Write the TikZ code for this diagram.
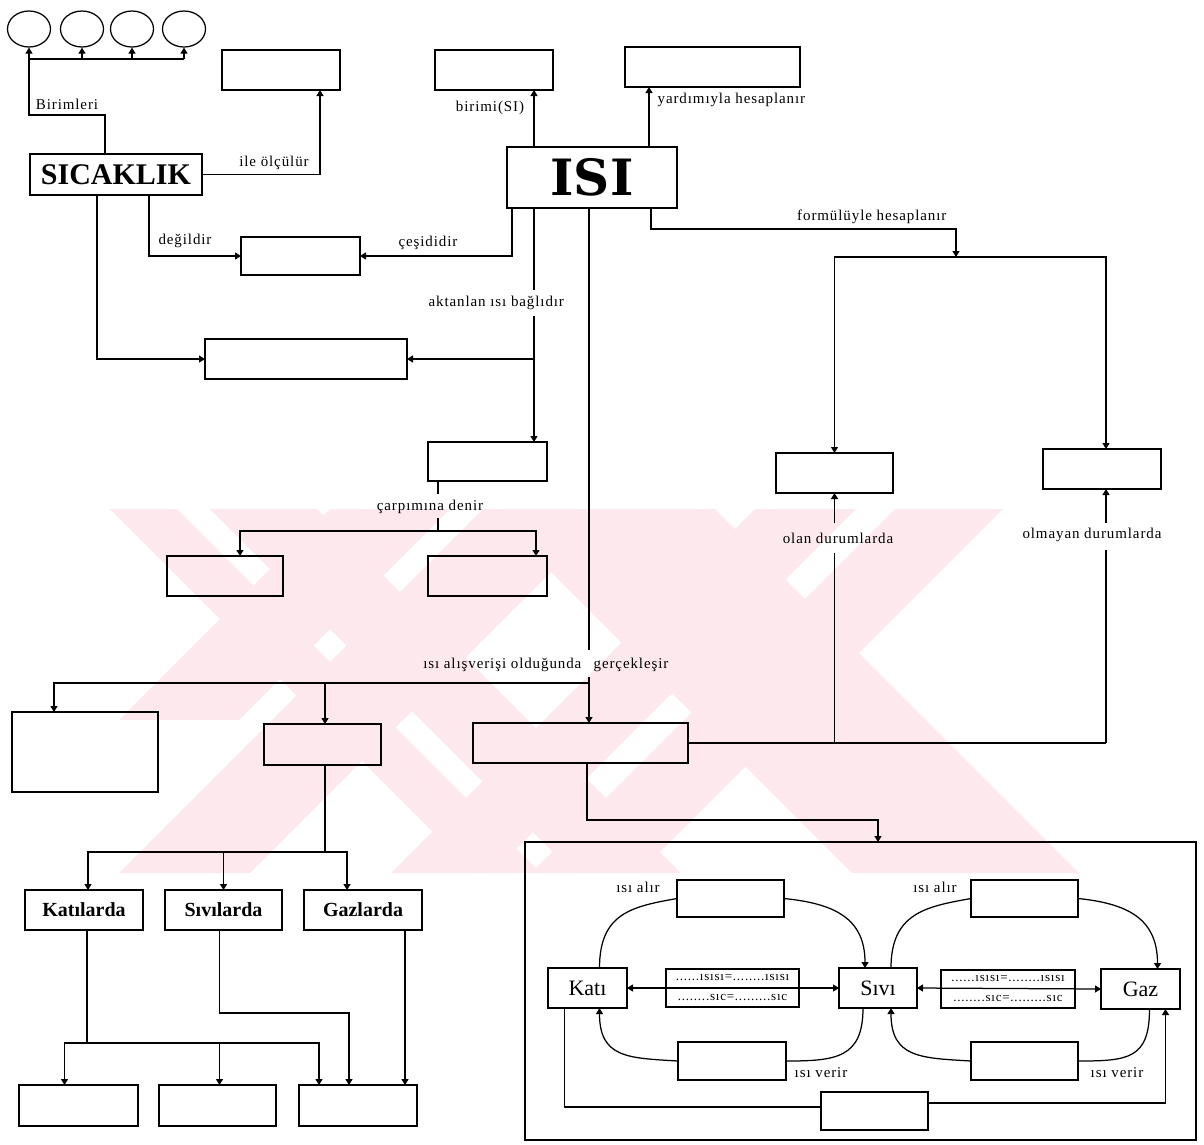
\documentclass[tikz,border=0pt]{standalone}
\usepackage{fontspec}
\setmainfont{Liberation Serif}
\newfontfamily\lf[LetterSpace=6]{Liberation Serif}
\newfontfamily\isf{DejaVu Serif}
\usetikzlibrary{arrows.meta,shapes.geometric,calc}
\definecolor{wmpink}{RGB}{253,233,237}
\newcommand{\bx}[6]{\node[box,minimum width={#4-#2},minimum height={#5-#3}] (#1) at (#2,#3) {#6};}
\begin{document}
\begin{tikzpicture}[x=1pt,y=-1pt,line width=1.25pt,
  box/.style={draw,rectangle,inner sep=0pt,outer sep=0pt,anchor=north west,align=center},
  arr/.style={-{Triangle[length=6pt,width=7pt]}},
  darr/.style={{Triangle[length=6pt,width=7pt]}-{Triangle[length=6pt,width=7pt]}},
  lbl/.style={font=\lf\fontsize{15}{15}\selectfont,inner sep=0pt},
  circ/.style={draw,ellipse,minimum width=43pt,minimum height=36pt,inner sep=0pt},
  info/.style={box,font=\lf\fontsize{13}{20}\selectfont}]
\useasboundingbox (0,0) rectangle (1204,1144);
% watermark
\begin{scope}
\clip (0,509) rectangle (1110,873);
\fill[wmpink,draw=none] (330,509) -- (450,509) -- (239,720) -- (119,720) -- cycle;
\foreach \a/\b in {483/614,755/856,895/1003}
  \fill[wmpink,draw=none] (\a,509) -- (\b,509) -- (\b-364,873) -- (\a-364,873) -- cycle;
\foreach \a/\b in {110/177,210/317,488/715}
  \fill[wmpink,draw=none] (\a,509) -- (\b,509) -- (\b+364,873) -- (\a+364,873) -- cycle;
\end{scope}

% top left
\node[circ] (c1) at (29,29) {};
\node[circ] (c2) at (82,29) {};
\node[circ] (c3) at (132,29) {};
\node[circ] (c4) at (184,29) {};
\coordinate (hb) at (0,59);
\bx{sic}{30}{154}{202}{195}{\fontsize{30}{30}\selectfont\bfseries SICAKLIK}
\draw[arr] ([xshift=-11pt]sic.north) -- ++(0,-39) -| (c1.south);
\draw (c1.south |- hb) -- (c4.south |- hb);
\foreach \c in {c2,c3,c4} \draw[arr] (\c.south |- hb) -- (\c.south);
\bx{ile}{222}{50}{340}{90}{}
\draw[arr] (sic.east) -| ([xshift=-20pt]ile.south east);
\bx{deg}{241}{237}{360}{275}{}
\draw[arr] ([xshift=-53pt]sic.south east) |- (deg.west);
\bx{lng}{205}{339}{407}{379}{}
\draw[arr] ([xshift=67pt]sic.south west) |- (lng.west);

% ISI
\bx{isi}{507}{147}{677}{208}{\isf\fontsize{50}{50}\selectfont\bfseries ISI}
\bx{bir}{435}{50}{553}{90}{}
\draw[arr] ([xshift=27pt]isi.north west) -- ([xshift=-19pt]bir.south east);
\bx{yar}{625}{47}{800}{87}{}
\draw[arr] ([xshift=-28pt]isi.north east) -- ([xshift=24pt]yar.south west);
\draw[arr] ([xshift=5pt]isi.south west) |- (deg.east);

% aktanlan
\bx{b4}{428}{442}{547}{481}{}
\draw[arr] ([xshift=27pt]isi.south west) -- ++(0,82) ++(0,26) -- ([xshift=-13pt]b4.north east);
\path ([xshift=27pt]isi.south west) ++(0,151) coordinate (j2);
\draw[arr] (j2) -- (lng.east);
\bx{b5}{167}{556}{283}{596}{}
\bx{b6}{428}{556}{547}{596}{}
\draw ([xshift=10pt]b4.south west) -- ++(0,13) ++(0,24) -- ++(0,13) coordinate (j3);
\draw[arr] (j3) -| ([xshift=15pt]b5.north);
\draw[arr] (j3) -| ([xshift=-11pt]b6.north east);

% isi alisverisi
\bx{b7}{12}{712}{158}{792}{}
\bx{b8}{264}{724}{381}{765}{}
\bx{b9}{473}{723}{688}{763}{}
\draw[arr] ([xshift=-3pt]isi.south) -- ++(0,442) ++(0,27) -- ([xshift=8.5pt]b9.north);
\path ([xshift=-3pt]isi.south) ++(0,475) coordinate (j4);
\draw[arr] (j4) -| ([xshift=-31pt]b7.north);
\draw[arr] ([xshift=2.5pt]b8.north |- j4) -- ([xshift=2.5pt]b8.north);

% formul
\bx{olan}{776}{453}{893}{493}{}
\bx{olm}{1043}{449}{1161}{489}{}
\draw[arr] ([xshift=-26pt]isi.south east) -- ++(0,21) -- ++(305,0) -- ++(0,28) coordinate (bar);
\draw[arr] (bar) -| (olan.north);
\draw[arr] (bar) -| ([xshift=4pt]olm.north);
\coordinate (olmx) at ([xshift=4pt]olm.south);
\draw (b9.east) -- (b9.east -| olmx);
\draw[arr] (b9.east -| olan.south) -- ++(0,-190) ++(0,-30) -- (olan.south);
\draw[arr] (b9.east -| olmx) -- ++(0,-193) ++(0,-27) -- (olmx);

% lower left
\bx{katl}{25}{890}{143}{930}{\fontsize{20}{20}\selectfont\bfseries Katılarda}
\bx{sivl}{165}{890}{282}{930}{\fontsize{20}{20}\selectfont\bfseries Sıvılarda}
\bx{gazl}{304}{890}{422}{930}{\fontsize{20}{20}\selectfont\bfseries Gazlarda}
\bx{d1}{19}{1085}{138}{1126}{}
\bx{d2}{159}{1085}{276}{1126}{}
\bx{d3}{299}{1085}{417}{1126}{}
\path ([xshift=2.5pt]b8.south) ++(0,87) coordinate (j5);
\draw ([xshift=2.5pt]b8.south) -- (j5);
\draw[arr] (j5) -| ([xshift=4pt]katl.north);
\draw[arr] (j5) -| ([xshift=-16pt]gazl.north);
\draw[arr] (sivl.north |- j5) -- (sivl.north);
\path ([xshift=3pt]katl.south) ++(0,113) coordinate (j6);
\draw ([xshift=3pt]katl.south) -- (j6);
\draw[arr] (j6) -| ([xshift=-14pt]d1.north);
\draw[arr] (j6) -| ([xshift=-39pt]d3.north);
\draw[arr] ([xshift=2pt]d2.north |- j6) -- ([xshift=2pt]d2.north);
\draw[arr] ([xshift=-4pt]sivl.south) -- ++(0,83) -| ([xshift=-9pt]d3.north);
\draw[arr] ([xshift=42pt]gazl.south) -- ([xshift=47pt]d3.north);

% phase box
\bx{ph}{525}{842}{1196}{1140}{}
\draw[arr] ([xshift=114pt]b9.south west) |- ([xshift=353pt,yshift=22pt]ph.north west) -- ([xshift=353pt]ph.north west);
\bx{kati}{548}{968}{627}{1008}{\fontsize{22}{22}\selectfont Katı}
\bx{sivi}{839}{968}{917}{1008}{\fontsize{22}{22}\selectfont Sıvı}
\bx{gaz}{1101}{969}{1180}{1009}{\fontsize{22}{22}\selectfont Gaz}
\bx{tl}{677}{880}{784}{917}{}
\bx{tr}{971}{880}{1078}{917}{}
\bx{bl}{678}{1042}{786}{1080}{}
\bx{br}{971}{1042}{1078}{1080}{}
\bx{bb}{821}{1092}{928}{1130}{}
\node[info,minimum width=133pt,minimum height=38pt] (inf1) at (666,969) {......ısısı=........ısısı\\........sıc=.........sıc};
\node[info,minimum width=134pt,minimum height=38pt] (inf2) at (941,970) {......ısısı=........ısısı\\........sıc=.........sıc};
\draw ([xshift=12pt]kati.north) .. controls +(0,-55) and +(-45,8) .. (tl.west);
\draw[arr] (tl.east) .. controls +(50,5) and +(0,-50) .. ([xshift=-13pt]sivi.north);
\draw ([xshift=13pt]sivi.north) .. controls +(0,-55) and +(-45,8) .. (tr.west);
\draw[arr] (tr.east) .. controls +(50,5) and +(0,-50) .. ([xshift=17pt]gaz.north);
\draw ([xshift=-15pt]sivi.south) .. controls +(0,50) and +(50,0) .. (bl.east);
\draw[arr] (bl.west) .. controls +(-50,-3) and +(0,50) .. ([xshift=12pt]kati.south);
\draw ([xshift=9pt]gaz.south) .. controls +(0,50) and +(50,0) .. (br.east);
\draw[arr] (br.west) .. controls +(-50,-3) and +(0,50) .. ([xshift=13pt]sivi.south);
\draw[darr] (kati.east) -- (sivi.west);
\draw[darr] (sivi.east) -- (gaz.west);
\draw ([xshift=-23pt]kati.south) |- ([yshift=4pt]bb.west);
\draw[arr] ([yshift=8pt]bb.east) -| ([xshift=25pt]gaz.south);

% labels
\node[lbl] (l1) at (67,104) {Birimleri};
\node[lbl] (l2) at (274,163) {ile ölçülür};
\node[lbl] (l3) at (185,241) {değildir};
\node[lbl] (l4) at (428,243) {çeşididir};
\node[lbl] (l5) at (490,108) {birimi(SI)};
\node[lbl,anchor=west] (l6) at (657,100) {yardımıyla hesaplanır};
\node[lbl,anchor=east] (l7) at (947,217) {formülüyle hesaplanır};
\node[lbl,anchor=west] (l8) at (428,303) {aktanlan ısı bağlıdır};
\node[lbl] (l9) at (430,507) {çarpımına denir};
\node[lbl] (l10) at (838,538) {olan durumlarda};
\node[lbl] (l11) at (1092,535) {olmayan durumlarda};
\node[lbl,anchor=east] (l12) at (582,665) {ısı alışverişi olduğunda};
\node[lbl,anchor=west] (l13) at (593,665) {gerçekleşir};
\node[lbl] (l14) at (638,887) {ısı alır};
\node[lbl] (l15) at (935,887) {ısı alır};
\node[lbl] (l16) at (821,1073) {ısı verir};
\node[lbl] (l17) at (1117,1073) {ısı verir};
\end{tikzpicture}
\end{document}
